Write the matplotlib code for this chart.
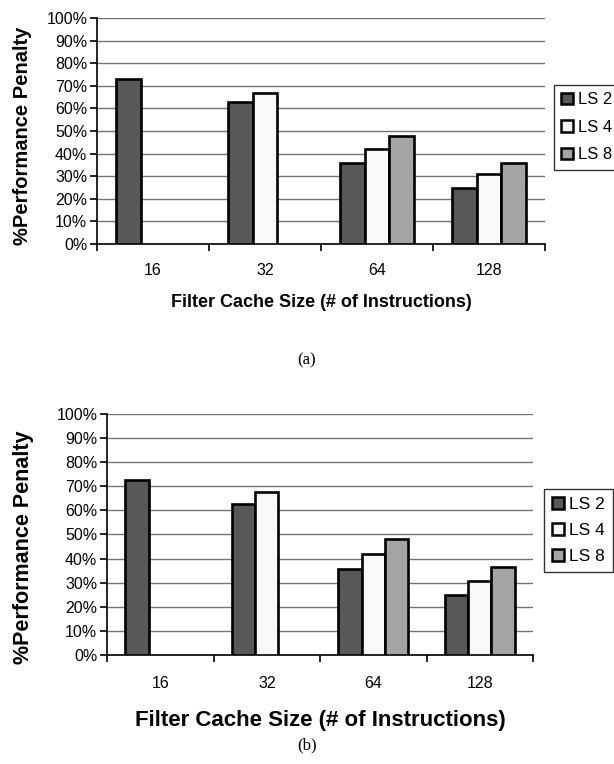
import numpy as np
import matplotlib
matplotlib.use("Agg")
import matplotlib.pyplot as plt
from matplotlib.ticker import FixedLocator, PercentFormatter

# Filter cache sizes and performance penalty (%) per line size
categories = ["16", "32", "64", "128"]
series_names = ["LS 2", "LS 4", "LS 8"]
ls2 = [73, 63, 36, 25]
ls4 = [np.nan, 67, 42, 31]
ls8 = [np.nan, np.nan, 48, 36]
ls2_b = [72.5, 62.5, 35.5, 25]
ls4_b = [np.nan, 67.5, 42, 30.5]
ls8_b = [np.nan, np.nan, 48, 36.5]
y_ticks = list(range(0, 101, 10))

colors = ["#585858", "#f8f8f8", "#a4a4a4"]

plt.rcParams["font.family"] = ["Liberation Sans", "DejaVu Sans"]

fig = plt.figure(figsize=(6.14, 7.64), dpi=100)


def draw_panel(rect, data, tick_fs, xlabel_fs, ylabel_fs, legend_anchor, legend_fs,
               tick_pad, xlabel_y, ylabel_xy, label_spacing):
    ax = fig.add_axes(rect)
    n = len(categories)
    x = np.arange(n)
    w = 0.22
    for i, (vals, name, c) in enumerate(zip(data, series_names, colors)):
        ax.bar(x + (i - 1) * w, vals, width=w, color=c, edgecolor="black",
               linewidth=1.9, label=name, zorder=3)
    ax.set_xlim(-0.5, n - 0.5)
    ax.set_ylim(0, 100)
    ax.yaxis.set_major_locator(FixedLocator(y_ticks))
    ax.yaxis.set_major_formatter(PercentFormatter(decimals=0))
    ax.grid(axis="y", color="#747474", linewidth=1.0, zorder=0)
    ax.set_axisbelow(True)
    for s in ("top", "right"):
        ax.spines[s].set_visible(False)
    ax.spines["left"].set_linewidth(1.2)
    ax.spines["bottom"].set_linewidth(1.2)
    # category labels centred, ticks on category boundaries
    ax.set_xticks(np.arange(-0.5, n, 1.0))
    ax.set_xticklabels([])
    ax.set_xticks(x, minor=True)
    ax.set_xticklabels(categories, minor=True, fontsize=tick_fs)
    ax.tick_params(axis="x", which="major", direction="out", length=5, width=1.2)
    ax.tick_params(axis="x", which="minor", length=0, pad=tick_pad)
    ax.tick_params(axis="y", direction="out", length=5, width=1.2,
                   labelsize=tick_fs, pad=2)
    ax.set_xlabel("Filter Cache Size (# of Instructions)", fontsize=xlabel_fs,
                  fontweight="bold", va="center")
    ax.xaxis.set_label_coords(0.5, xlabel_y)
    ax.set_ylabel("%Performance Penalty", fontsize=ylabel_fs, fontweight="bold",
                  va="center")
    ax.yaxis.set_label_coords(*ylabel_xy)
    leg = ax.legend(loc="upper left", bbox_to_anchor=legend_anchor,
                    bbox_transform=fig.transFigure, fontsize=legend_fs,
                    frameon=True, fancybox=False, edgecolor="black",
                    handlelength=0.7, handleheight=0.7, handletextpad=0.3,
                    borderpad=0.45, labelspacing=label_spacing, borderaxespad=0)
    leg.get_frame().set_linewidth(1.0)
    for h in leg.legend_handles:
        h.set_linewidth(1.8)
    return ax


draw_panel([0.158, 0.6806, 0.7296, 0.2958], [ls2, ls4, ls8],
           tick_fs=11.5, xlabel_fs=13, ylabel_fs=14.5,
           legend_anchor=(0.902, 0.889), legend_fs=12, tick_pad=14,
           xlabel_y=-0.257, ylabel_xy=(-0.167, 0.478), label_spacing=0.75)
fig.text(0.5, 1 - 360 / 764, "(a)", ha="center", va="center",
         fontsize=12, family=["Liberation Serif", "DejaVu Serif"])

draw_panel([0.1743, 0.1427, 0.6938, 0.3154], [ls2_b, ls4_b, ls8_b],
           tick_fs=11.5, xlabel_fs=16, ylabel_fs=15.5,
           legend_anchor=(0.886, 0.360), legend_fs=12.5, tick_pad=15,
           xlabel_y=-0.270, ylabel_xy=(-0.197, 0.448), label_spacing=0.62)
fig.text(0.5, 1 - 745 / 764, "(b)", ha="center", va="center",
         fontsize=12, family=["Liberation Serif", "DejaVu Serif"])

fig.savefig("out.png", dpi=100, facecolor="white")
